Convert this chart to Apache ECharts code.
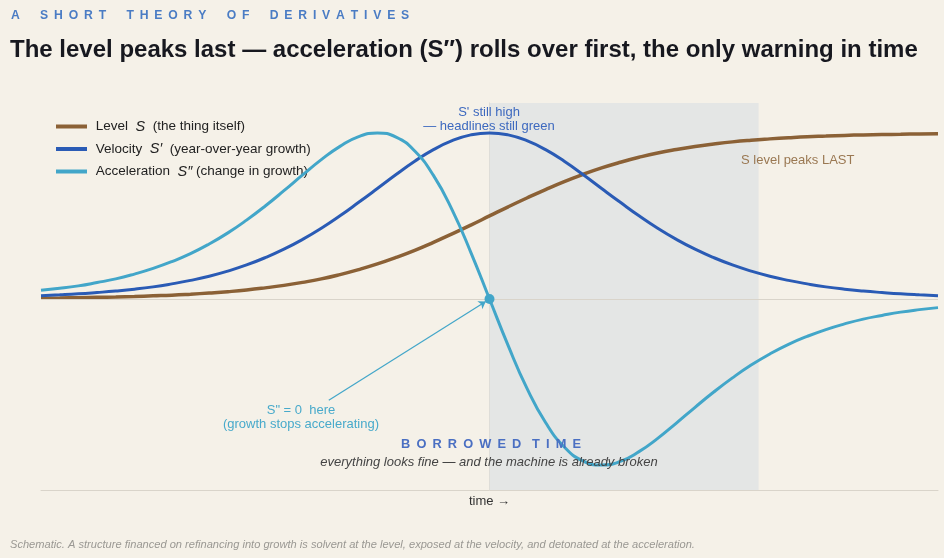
<!DOCTYPE html>
<html>
<head>
<meta charset="utf-8">
<script src="https://cdn.jsdelivr.net/npm/echarts@6/dist/echarts.min.js"></script>
<style>
  html, body { margin: 0; padding: 0; background: #f5f1e8; }
  #chart { width: 944px; height: 558px; }
</style>
</head>
<body>
<div id="chart"></div>
<script>
// time axis (schematic units, velocity peaks at 0)
var times = [-6, -5.75, -5.5, -5.25, -5, -4.75, -4.5, -4.25, -4, -3.75, -3.5, -3.25,
             -3, -2.75, -2.5, -2.25, -2, -1.75, -1.5, -1.25, -1, -0.75, -0.5, -0.25,
             0, 0.25, 0.5, 0.75, 1, 1.25, 1.5, 1.75, 2, 2.25, 2.5, 2.75,
             3, 3.25, 3.5, 3.75, 4, 4.25, 4.5, 4.75, 5, 5.25, 5.5, 5.75, 6];
// level S
var levelVals = [0.005, 0.006, 0.008, 0.010, 0.012, 0.015, 0.019, 0.023, 0.029, 0.036, 0.044, 0.054,
                 0.067, 0.082, 0.100, 0.121, 0.147, 0.177, 0.211, 0.250, 0.293, 0.341, 0.392, 0.445,
                 0.500, 0.555, 0.608, 0.659, 0.707, 0.750, 0.789, 0.823, 0.853, 0.879, 0.900, 0.918,
                 0.933, 0.946, 0.956, 0.964, 0.971, 0.977, 0.981, 0.985, 0.988, 0.990, 0.992, 0.994, 0.995];
// velocity S'
var velocityVals = [0.020, 0.025, 0.031, 0.039, 0.048, 0.059, 0.073, 0.091, 0.112, 0.137, 0.168, 0.205,
                    0.249, 0.300, 0.359, 0.426, 0.501, 0.582, 0.665, 0.749, 0.829, 0.899, 0.953, 0.988,
                    1.000, 0.988, 0.953, 0.899, 0.829, 0.749, 0.665, 0.582, 0.501, 0.426, 0.359, 0.300,
                    0.249, 0.205, 0.168, 0.137, 0.112, 0.091, 0.073, 0.059, 0.048, 0.039, 0.031, 0.025, 0.020];
// acceleration S''
var accelVals = [0.052, 0.064, 0.079, 0.099, 0.121, 0.150, 0.184, 0.225, 0.273, 0.331, 0.398, 0.475,
                 0.560, 0.652, 0.747, 0.839, 0.919, 0.978, 1.000, 0.975, 0.891, 0.744, 0.537, 0.281,
                 0, -0.281, -0.537, -0.744, -0.891, -0.975, -1.000, -0.978, -0.919, -0.839, -0.747, -0.652,
                 -0.560, -0.475, -0.398, -0.331, -0.273, -0.225, -0.184, -0.150, -0.121, -0.099, -0.079, -0.064, -0.052];

var seriesNames = ['Level', 'Velocity', 'Acceleration'];
var borrowedTime = [0, 3.6]; // shaded window on the time axis

var FONT = '"Liberation Sans", Arial, sans-serif';
var BROWN = '#8b6136', BLUE = '#2a5bb5', CYAN = '#42a6c9';

function zip(ys) {
  return times.map(function (t, i) { return [t, ys[i]]; });
}

// spread capitals out (no letter-spacing in canvas text)
function spaced(str, wordGap) {
  return str.split(' ').map(function (w) {
    return w.split('').join(' \u2009');
  }).join(wordGap);
}

var legendRich = {
  Level: '{a| Level  }{i|S}{a|  (the thing itself)}',
  Velocity: '{a| Velocity  }{i|S′}{a|  (year-over-year growth)}',
  Acceleration: '{a| Acceleration  }{i|S″}{a| (change in growth)}'
};

var chart = echarts.init(document.getElementById('chart'));

var option = {
  backgroundColor: '#f5f1e8',
  animation: false,
  textStyle: { fontFamily: FONT },
  grid: { left: 41, right: 6, top: 103, bottom: 68 },
  legend: {
    left: 51,
    top: 114,
    orient: 'vertical',
    icon: 'rect',
    itemWidth: 31,
    itemHeight: 4,
    itemGap: 7.5,
    data: seriesNames,
    formatter: function (name) { return legendRich[name]; },
    textStyle: {
      rich: {
        a: { fontSize: 13.5, color: '#222', fontFamily: FONT },
        i: { fontSize: 14.5, color: '#222', fontStyle: 'italic', fontFamily: FONT }
      }
    }
  },
  xAxis: {
    type: 'value',
    min: -6,
    max: 6,
    name: 'time →',
    nameLocation: 'middle',
    nameGap: 5,
    nameTextStyle: { fontSize: 13, color: '#333', verticalAlign: 'top' },
    axisLine: { onZero: false, lineStyle: { color: '#d9d4ca', width: 1 } },
    axisTick: { show: false },
    axisLabel: { show: false },
    splitLine: { show: false }
  },
  yAxis: {
    type: 'value',
    min: -1.15,
    max: 1.18,
    axisLine: { show: true, lineStyle: { color: '#d9d4ca', width: 1 } },
    axisTick: { show: false },
    axisLabel: { show: false },
    splitLine: { show: false }
  },
  series: [
    {
      name: 'Level',
      type: 'line',
      data: zip(levelVals),
      smooth: true,
      showSymbol: false,
      lineStyle: { color: BROWN, width: 3.5 },
      itemStyle: { color: BROWN },
      z: 3,
      markArea: {
        silent: true,
        itemStyle: { color: '#e4e6e5' },
        data: [[{ xAxis: borrowedTime[0] }, { xAxis: borrowedTime[1] }]]
      },
      markLine: {
        silent: true,
        symbol: ['none', 'none'],
        label: { show: false },
        lineStyle: { color: '#d9d4ca', width: 1, type: 'solid' },
        data: [{ yAxis: 0 }]
      }
    },
    {
      name: 'Velocity',
      type: 'line',
      data: zip(velocityVals),
      smooth: true,
      showSymbol: false,
      lineStyle: { color: BLUE, width: 3 },
      itemStyle: { color: BLUE },
      z: 4
    },
    {
      name: 'Acceleration',
      type: 'line',
      data: zip(accelVals),
      smooth: true,
      showSymbol: false,
      lineStyle: { color: CYAN, width: 3 },
      itemStyle: { color: CYAN },
      z: 5,
      markPoint: {
        silent: true,
        symbol: 'circle',
        symbolSize: 10,
        itemStyle: { color: CYAN },
        label: { show: false },
        data: [{ coord: [0, 0] }]
      },
      markLine: {
        silent: true,
        label: { show: false },
        lineStyle: { color: CYAN, width: 1.2, type: 'solid' },
        symbolSize: 7,
        data: [[
          { coord: [-2.15, -0.61], symbol: 'none' },
          { coord: [-0.05, -0.015], symbol: 'arrow' }
        ]]
      }
    }
  ],
  graphic: [
    {
      type: 'text', x: 11, y: 16, z: 100,
      style: {
        text: spaced('A SHORT THEORY OF DERIVATIVES', '      '),
        font: 'bold 12.2px ' + FONT, fill: '#4a7cc4', verticalAlign: 'middle'
      }
    },
    {
      type: 'text', x: 10, y: 50, z: 100,
      style: {
        text: 'The level peaks last — acceleration (S″) rolls over first, the only warning in time',
        font: 'bold 24px ' + FONT, fill: '#17181f', verticalAlign: 'middle'
      }
    },
    {
      type: 'text', x: 489, y: 112, z: 100,
      style: {
        text: "S' still high", font: '13px ' + FONT, fill: '#3d69bf',
        align: 'center', verticalAlign: 'middle'
      }
    },
    {
      type: 'text', x: 489, y: 126, z: 100,
      style: {
        text: '— headlines still green', font: '13px ' + FONT, fill: '#3d69bf',
        align: 'center', verticalAlign: 'middle'
      }
    },
    {
      type: 'text', x: 741, y: 160, z: 100,
      style: {
        text: 'S level peaks LAST', font: '13px ' + FONT, fill: '#9a7852',
        align: 'left', verticalAlign: 'middle'
      }
    },
    {
      type: 'text', x: 301, y: 410, z: 100,
      style: {
        text: 'S" = 0  here', font: '13px ' + FONT, fill: '#48aacb',
        align: 'center', verticalAlign: 'middle'
      }
    },
    {
      type: 'text', x: 301, y: 424, z: 100,
      style: {
        text: '(growth stops accelerating)', font: '13px ' + FONT, fill: '#48aacb',
        align: 'center', verticalAlign: 'middle'
      }
    },
    {
      type: 'text', x: 491, y: 444, z: 100,
      style: {
        text: spaced('BORROWED TIME', '   '), font: 'bold 12.8px ' + FONT, fill: '#4a6fc2',
        align: 'center', verticalAlign: 'middle'
      }
    },
    {
      type: 'text', x: 489, y: 462, z: 100,
      style: {
        text: 'everything looks fine — and the machine is already broken', font: 'italic 13px ' + FONT,
        fill: '#444', align: 'center', verticalAlign: 'middle'
      }
    },
    {
      type: 'text', x: 10, y: 545, z: 100,
      style: {
        text: 'Schematic. A structure financed on refinancing into growth is solvent at the level, exposed at the velocity, and detonated at the acceleration.',
        font: 'italic 11.1px ' + FONT, fill: '#9a9893', verticalAlign: 'middle'
      }
    }
  ]
};

chart.setOption(option);
</script>
</body>
</html>
